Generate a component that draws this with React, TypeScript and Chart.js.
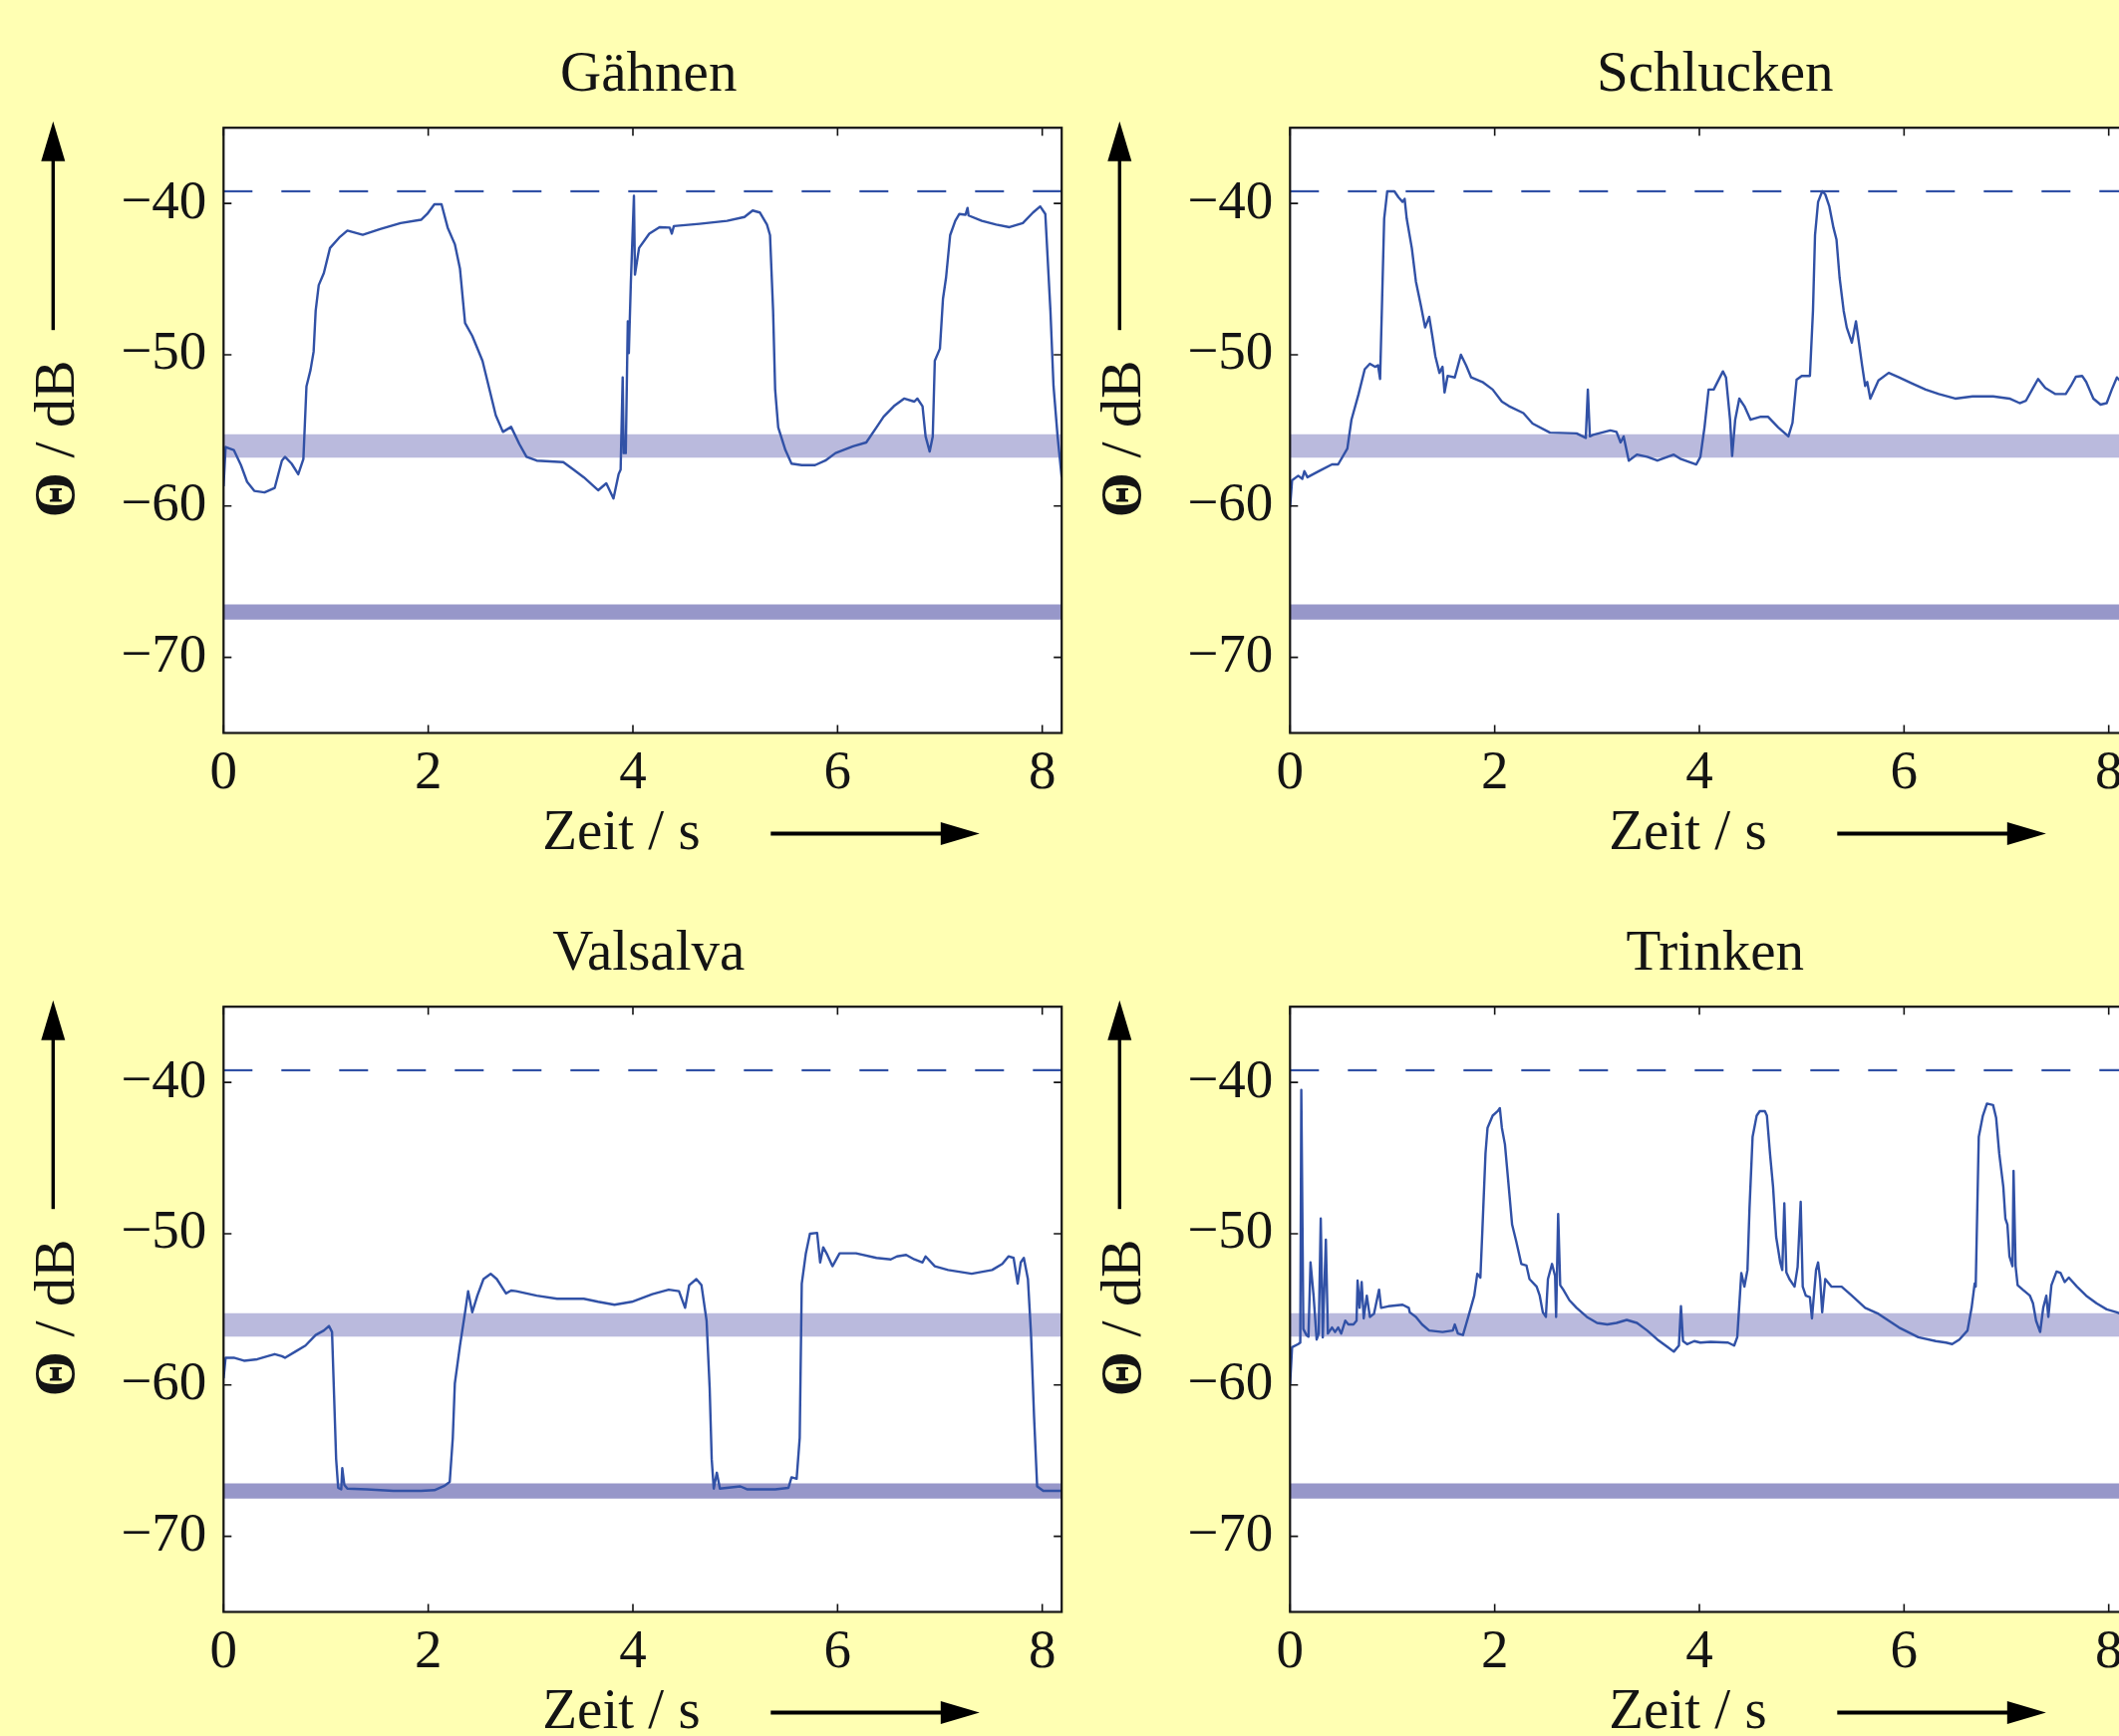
import React, { useEffect, useRef } from "react";
import { Chart, registerables } from "chart.js";

Chart.register(...registerables);

// ---------- data ----------
const xTickValues = [0, 2, 4, 6, 8];
const yTickValues = [-70, -60, -50, -40];
const xMin = 0;
const xMax = 8.19;
const yMin = -75;
const yMax = -35;
const refLevel = -39.2;
const upperBand = [-56.8, -55.25];
const lowerBand = [-67.5, -66.5];

const gaehnenT = [0, 0.02, 0.1, 0.17, 0.23, 0.3, 0.4, 0.5, 0.57, 0.6, 0.665, 0.73, 0.78, 0.81, 0.85, 0.88, 0.9, 0.93, 0.98, 1.04, 1.13, 1.21, 1.36, 1.53, 1.73, 1.93, 1.99, 2.06, 2.13, 2.19, 2.26, 2.31, 2.36, 2.43, 2.53, 2.59, 2.66, 2.73, 2.81, 2.89, 2.96, 3.06, 3.32, 3.42, 3.52, 3.66, 3.74, 3.81, 3.86, 3.88, 3.9, 3.91, 3.93, 3.95, 3.96, 3.98, 4.01, 4.02, 4.06, 4.16, 4.26, 4.36, 4.38, 4.4, 4.65, 4.92, 5.09, 5.17, 5.24, 5.31, 5.34, 5.37, 5.39, 5.42, 5.49, 5.55, 5.65, 5.78, 5.88, 5.98, 6.15, 6.28, 6.38, 6.45, 6.55, 6.65, 6.75, 6.78, 6.83, 6.86, 6.9, 6.93, 6.95, 7.0, 7.03, 7.06, 7.1, 7.15, 7.19, 7.25, 7.27, 7.28, 7.41, 7.55, 7.68, 7.81, 7.91, 7.98, 8.03, 8.08, 8.11, 8.15, 8.19];
const gaehnenV = [-58.7, -56.1, -56.3, -57.3, -58.4, -59.0, -59.1, -58.8, -57.0, -56.75, -57.2, -57.9, -56.9, -52.1, -51.0, -49.8, -47.1, -45.4, -44.6, -42.95, -42.26, -41.8, -42.07, -41.7, -41.3, -41.08, -40.7, -40.06, -40.06, -41.6, -42.7, -44.3, -47.9, -48.75, -50.4, -52.06, -54.0, -55.1, -54.77, -55.9, -56.75, -57.0, -57.1, -57.6, -58.1, -58.96, -58.5, -59.5, -57.9, -57.6, -51.5, -56.5, -56.5, -47.8, -49.9, -45.2, -39.5, -44.7, -42.95, -42.0, -41.57, -41.6, -42.0, -41.5, -41.35, -41.15, -40.9, -40.47, -40.6, -41.4, -42.1, -47.1, -52.3, -54.8, -56.3, -57.2, -57.3, -57.3, -57.0, -56.5, -56.06, -55.8, -54.8, -54.1, -53.4, -52.9, -53.1, -52.9, -53.4, -55.4, -56.4, -55.4, -50.4, -49.6, -46.3, -44.9, -42.1, -41.15, -40.7, -40.75, -40.3, -40.8, -41.15, -41.4, -41.57, -41.3, -40.6, -40.2, -40.7, -47.1, -52.06, -55.4, -58.1];

const schluckenT = [0, 0.02, 0.08, 0.12, 0.14, 0.17, 0.28, 0.41, 0.47, 0.56, 0.6, 0.67, 0.73, 0.78, 0.83, 0.86, 0.88, 0.9, 0.92, 0.95, 1.02, 1.06, 1.1, 1.12, 1.14, 1.19, 1.23, 1.28, 1.32, 1.36, 1.39, 1.42, 1.46, 1.49, 1.51, 1.54, 1.61, 1.67, 1.72, 1.77, 1.88, 1.98, 2.07, 2.14, 2.28, 2.37, 2.54, 2.8, 2.89, 2.91, 2.93, 2.96, 3.13, 3.19, 3.23, 3.26, 3.31, 3.39, 3.49, 3.59, 3.75, 3.82, 3.97, 4.01, 4.05, 4.09, 4.14, 4.23, 4.26, 4.3, 4.32, 4.35, 4.39, 4.44, 4.5, 4.6, 4.67, 4.77, 4.87, 4.91, 4.95, 5.0, 5.08, 5.11, 5.13, 5.16, 5.2, 5.23, 5.27, 5.31, 5.34, 5.37, 5.41, 5.44, 5.49, 5.53, 5.55, 5.59, 5.62, 5.64, 5.67, 5.75, 5.85, 5.95, 6.08, 6.21, 6.34, 6.5, 6.67, 6.87, 7.03, 7.13, 7.19, 7.26, 7.31, 7.38, 7.48, 7.58, 7.63, 7.68, 7.74, 7.78, 7.85, 7.92, 7.98, 8.03, 8.08, 8.19];
const schluckenV = [-60.07, -58.3, -58.0, -58.2, -57.7, -58.1, -57.7, -57.25, -57.25, -56.2, -54.3, -52.6, -50.96, -50.6, -50.8, -50.7, -51.6, -46.3, -41.0, -39.2, -39.2, -39.6, -39.9, -39.7, -41.0, -42.95, -45.16, -46.8, -48.2, -47.5, -48.75, -50.1, -51.2, -50.8, -52.5, -51.4, -51.5, -50.0, -50.7, -51.5, -51.8, -52.3, -53.1, -53.4, -53.86, -54.55, -55.15, -55.2, -55.5, -52.3, -55.4, -55.3, -55.0, -55.1, -55.8, -55.4, -57.0, -56.6, -56.75, -57.0, -56.6, -56.9, -57.25, -56.75, -54.8, -52.3, -52.3, -51.1, -51.5, -54.3, -56.7, -54.3, -52.9, -53.4, -54.3, -54.1, -54.1, -54.8, -55.4, -54.5, -51.65, -51.4, -51.4, -47.1, -42.1, -39.9, -39.2, -39.4, -40.2, -41.6, -42.4, -44.9, -47.1, -48.2, -49.2, -47.8, -48.75, -50.7, -52.06, -51.8, -52.9, -51.7, -51.2, -51.5, -51.9, -52.3, -52.6, -52.9, -52.75, -52.75, -52.9, -53.2, -53.05, -52.2, -51.6, -52.2, -52.6, -52.6, -52.06, -51.45, -51.4, -51.8, -52.9, -53.3, -53.2, -52.3, -51.5, -52.3];

const valsalvaT = [0, 0.02, 0.1, 0.2, 0.33, 0.43, 0.5, 0.57, 0.6, 0.7, 0.8, 0.9, 0.98, 1.03, 1.06, 1.08, 1.1, 1.12, 1.15, 1.16, 1.18, 1.21, 1.4, 1.66, 1.93, 2.06, 2.16, 2.21, 2.24, 2.26, 2.31, 2.36, 2.39, 2.43, 2.48, 2.54, 2.61, 2.67, 2.76, 2.81, 2.86, 3.06, 3.26, 3.52, 3.66, 3.82, 3.99, 4.19, 4.35, 4.45, 4.51, 4.55, 4.62, 4.67, 4.72, 4.75, 4.77, 4.79, 4.82, 4.85, 5.05, 5.12, 5.39, 5.52, 5.55, 5.6, 5.63, 5.65, 5.69, 5.73, 5.8, 5.83, 5.86, 5.9, 5.95, 6.02, 6.18, 6.38, 6.52, 6.58, 6.67, 6.75, 6.83, 6.86, 6.95, 7.08, 7.31, 7.51, 7.61, 7.67, 7.72, 7.76, 7.79, 7.82, 7.86, 7.89, 7.92, 7.95, 8.01, 8.19];
const valsalvaV = [-59.56, -58.2, -58.2, -58.4, -58.3, -58.1, -57.96, -58.1, -58.2, -57.8, -57.4, -56.7, -56.4, -56.1, -56.5, -60.7, -64.9, -66.8, -66.9, -65.5, -66.6, -66.85, -66.9, -67.0, -67.0, -66.95, -66.66, -66.4, -63.5, -59.9, -57.4, -55.2, -53.8, -55.2, -54.1, -53.0, -52.65, -53.0, -53.95, -53.76, -53.8, -54.1, -54.3, -54.3, -54.5, -54.7, -54.5, -54.0, -53.7, -53.8, -54.9, -53.4, -53.0, -53.4, -55.75, -60.2, -64.9, -66.85, -65.8, -66.85, -66.7, -66.9, -66.9, -66.8, -66.1, -66.2, -63.5, -53.3, -51.3, -50.0, -49.95, -51.9, -50.9, -51.4, -52.15, -51.3, -51.3, -51.6, -51.7, -51.5, -51.4, -51.7, -51.9, -51.5, -52.15, -52.4, -52.65, -52.4, -52.0, -51.5, -51.6, -53.3, -51.9, -51.6, -53.0, -56.6, -62.1, -66.7, -67.0, -67.0];

const trinkenT = [0, 0.02, 0.08, 0.1, 0.11, 0.13, 0.16, 0.18, 0.2, 0.23, 0.26, 0.28, 0.3, 0.32, 0.35, 0.37, 0.41, 0.44, 0.47, 0.5, 0.54, 0.57, 0.62, 0.65, 0.66, 0.68, 0.7, 0.72, 0.75, 0.78, 0.82, 0.87, 0.89, 0.96, 1.1, 1.16, 1.17, 1.23, 1.29, 1.36, 1.49, 1.59, 1.61, 1.64, 1.69, 1.72, 1.75, 1.8, 1.83, 1.86, 1.88, 1.91, 1.93, 1.98, 2.03, 2.05, 2.07, 2.1, 2.13, 2.17, 2.21, 2.26, 2.31, 2.34, 2.41, 2.44, 2.47, 2.5, 2.52, 2.56, 2.59, 2.6, 2.62, 2.64, 2.67, 2.73, 2.8, 2.9, 3.0, 3.1, 3.19, 3.29, 3.39, 3.49, 3.59, 3.69, 3.75, 3.8, 3.82, 3.84, 3.88, 3.95, 4.01, 4.11, 4.28, 4.34, 4.37, 4.41, 4.44, 4.47, 4.49, 4.52, 4.56, 4.59, 4.64, 4.66, 4.69, 4.72, 4.75, 4.79, 4.81, 4.83, 4.85, 4.88, 4.93, 4.96, 4.99, 5.01, 5.04, 5.08, 5.1, 5.14, 5.16, 5.18, 5.2, 5.23, 5.29, 5.39, 5.49, 5.62, 5.75, 5.95, 6.14, 6.31, 6.41, 6.47, 6.54, 6.62, 6.66, 6.69, 6.7, 6.73, 6.77, 6.81, 6.87, 6.9, 6.93, 6.97, 6.99, 7.01, 7.03, 7.06, 7.07, 7.09, 7.11, 7.16, 7.23, 7.26, 7.29, 7.33, 7.36, 7.39, 7.41, 7.44, 7.49, 7.53, 7.57, 7.61, 7.69, 7.78, 7.88, 7.98, 8.08, 8.19];
const trinkenV = [-60.0, -57.5, -57.3, -57.2, -40.5, -56.3, -56.7, -56.8, -51.9, -54.1, -57.0, -56.6, -49.0, -56.85, -50.4, -56.6, -56.2, -56.5, -56.2, -56.6, -55.75, -56.0, -56.0, -55.75, -53.1, -54.9, -53.2, -55.6, -54.1, -55.5, -55.3, -53.7, -54.9, -54.8, -54.7, -54.9, -55.2, -55.5, -56.0, -56.4, -56.5, -56.4, -56.0, -56.6, -56.7, -56.0, -55.3, -54.1, -52.65, -52.9, -49.7, -44.7, -43.0, -42.2, -41.9, -41.7, -43.0, -44.1, -46.35, -49.4, -50.5, -52.0, -52.1, -53.0, -53.5, -54.1, -55.2, -55.5, -53.0, -52.0, -52.8, -55.5, -48.7, -53.4, -53.7, -54.4, -54.9, -55.5, -55.9, -56.0, -55.9, -55.7, -55.9, -56.4, -57.0, -57.5, -57.8, -57.4, -54.8, -57.1, -57.3, -57.1, -57.2, -57.15, -57.2, -57.4, -56.85, -52.6, -53.5, -52.4, -48.3, -43.6, -42.2, -41.9, -41.9, -42.2, -44.7, -46.9, -50.2, -51.9, -52.4, -48.0, -52.55, -53.0, -53.5, -52.2, -47.9, -53.5, -54.1, -54.2, -55.6, -52.4, -51.9, -53.0, -55.2, -53.0, -53.5, -53.5, -54.1, -54.9, -55.3, -56.2, -56.85, -57.1, -57.2, -57.3, -57.0, -56.4, -54.9, -53.3, -53.5, -43.6, -42.2, -41.4, -41.5, -42.35, -44.7, -46.9, -49.0, -49.4, -51.5, -52.15, -45.85, -52.15, -53.4, -53.7, -54.1, -54.6, -55.75, -56.5, -54.9, -54.1, -55.5, -53.4, -52.5, -52.6, -53.2, -52.9, -53.5, -54.1, -54.6, -55.0, -55.2, -55.5];

const panelTitles = ["Gähnen", "Schlucken", "Valsalva", "Trinken"];
const xLabel = "Zeit / s";
const yLabelSymbol = "Θ";
const yLabelRest = " / dB";

// ---------- style ----------
const FONT = "'Liberation Serif', 'Times New Roman', Times, serif";
const BG = "#FFFFB3";
const INK = "#141414";
const CURVE = "#3151A6";
const BAND_LIGHT = "#BABADD";
const BAND_DARK = "#9797C9";

const CW = 1070;
const CH = 882;

const fmt = (v: number) => (v < 0 ? "\u2212" + Math.abs(v) : String(v));

const decorPlugin = {
  id: "decor",
  beforeDraw(chart: any) {
    const { ctx, chartArea: a } = chart;
    ctx.save();
    ctx.fillStyle = "#ffffff";
    ctx.fillRect(a.left, a.top, a.right - a.left, a.bottom - a.top);
    ctx.restore();
  },
  afterDraw(chart: any, _args: any, opts: any) {
    const { ctx, chartArea: a } = chart;
    const xs = chart.scales.x;
    const ys = chart.scales.y;
    ctx.save();
    // inward ticks
    ctx.strokeStyle = INK;
    ctx.lineWidth = 1.6;
    const tl = 8;
    ctx.beginPath();
    xTickValues.forEach((v) => {
      const px = xs.getPixelForValue(v);
      ctx.moveTo(px, a.bottom);
      ctx.lineTo(px, a.bottom - tl);
      ctx.moveTo(px, a.top);
      ctx.lineTo(px, a.top + tl);
    });
    yTickValues.forEach((v) => {
      const py = ys.getPixelForValue(v);
      ctx.moveTo(a.left, py);
      ctx.lineTo(a.left + tl, py);
      ctx.moveTo(a.right, py);
      ctx.lineTo(a.right - tl, py);
    });
    ctx.stroke();
    // frame
    ctx.lineWidth = 2.2;
    ctx.strokeRect(a.left, a.top, a.right - a.left, a.bottom - a.top);

    // title
    ctx.fillStyle = INK;
    ctx.font = `57px ${FONT}`;
    ctx.textAlign = "center";
    ctx.textBaseline = "alphabetic";
    ctx.fillText(opts.title, (a.left + a.right) / 2 + 6, a.top - 37);

    // x label
    ctx.textAlign = "left";
    ctx.fillText(xLabel, a.left + 320, a.bottom + 116);

    // x arrow
    ctx.fillStyle = "#000";
    const ay = a.bottom + 101;
    const ax0 = a.left + 549;
    const axTip = a.left + 758.5;
    const axBase = axTip - 39;
    ctx.fillRect(ax0, ay - 2, axBase - ax0 + 1, 4);
    ctx.beginPath();
    ctx.moveTo(axTip, ay);
    ctx.lineTo(axBase, ay - 11.5);
    ctx.lineTo(axBase, ay + 11.5);
    ctx.closePath();
    ctx.fill();

    // y arrow
    const yx = a.left - 171;
    const yTip = a.top - 6.5;
    const yBase = yTip + 40;
    const yBottom = a.top + 203;
    ctx.fillRect(yx - 1.7, yBase - 1, 3.4, yBottom - yBase + 1);
    ctx.beginPath();
    ctx.moveTo(yx, yTip);
    ctx.lineTo(yx - 12, yBase);
    ctx.lineTo(yx + 12, yBase);
    ctx.closePath();
    ctx.fill();

    // y label (rotated)
    ctx.fillStyle = INK;
    ctx.translate(a.left - 150, a.top + 312);
    ctx.rotate(-Math.PI / 2);
    ctx.textAlign = "left";
    const boldFont = `bold 58px ${FONT}`;
    const normFont = `58px ${FONT}`;
    ctx.font = boldFont;
    const w1 = ctx.measureText(yLabelSymbol).width;
    ctx.font = normFont;
    const w2 = ctx.measureText(yLabelRest).width;
    const start = -(w1 + w2) / 2;
    ctx.font = boldFont;
    ctx.fillText(yLabelSymbol, start, 0);
    ctx.font = normFont;
    ctx.fillText(yLabelRest, start + w1, 0);
    ctx.restore();
  },
};

type PanelProps = { title: string; times: number[]; values: number[]; left: number; top: number };

function Panel({ title, times, values, left, top }: PanelProps) {
  const ref = useRef<HTMLCanvasElement>(null);
  useEffect(() => {
    const canvas = ref.current;
    if (!canvas) return;
    const curve = times.map((t, i) => ({ x: t, y: values[i] }));
    const span = (v: number) => [
      { x: xMin, y: v },
      { x: xMax, y: v },
    ];
    const tickFont = { family: FONT, size: 55 };
    const chart = new Chart(canvas, {
      type: "line",
      data: {
        datasets: [
          { data: curve, borderColor: CURVE, borderWidth: 2.4, pointRadius: 0, fill: false, tension: 0, borderJoinStyle: "round", order: 0 },
          { data: span(refLevel), borderColor: CURVE, borderWidth: 2.2, borderDash: [29, 29], pointRadius: 0, fill: false, order: 1 },
          { data: span(upperBand[0]), borderWidth: 0, borderColor: "rgba(0,0,0,0)", backgroundColor: BAND_LIGHT, fill: { value: upperBand[1] }, pointRadius: 0, order: 2 },
          { data: span(lowerBand[0]), borderWidth: 0, borderColor: "rgba(0,0,0,0)", backgroundColor: BAND_DARK, fill: { value: lowerBand[1] }, pointRadius: 0, order: 3 },
        ],
      },
      options: {
        animation: false,
        responsive: false,
        maintainAspectRatio: false,
        events: [],
        layout: { padding: { left: 0, top: 128.2, right: CW - 1065.2, bottom: 0 } },
        plugins: {
          legend: { display: false },
          tooltip: { enabled: false },
          title: { display: false },
          decor: { title },
        } as any,
        scales: {
          x: {
            type: "linear",
            min: xMin,
            max: xMax,
            afterBuildTicks: (s: any) => {
              s.ticks = xTickValues.map((v) => ({ value: v }));
            },
            afterFit: (s: any) => {
              s.height = CH - 735.5;
            },
            grid: { display: false, drawTicks: false },
            border: { display: false },
            ticks: { font: tickFont, color: INK, padding: 8, maxRotation: 0, autoSkip: false, callback: (v: any) => fmt(Number(v)) },
          },
          y: {
            type: "linear",
            min: yMin,
            max: yMax,
            afterBuildTicks: (s: any) => {
              s.ticks = yTickValues.map((v) => ({ value: v }));
            },
            afterFit: (s: any) => {
              s.width = 224.3;
            },
            grid: { display: false, drawTicks: false },
            border: { display: false },
            ticks: { font: tickFont, color: INK, padding: 17, autoSkip: false, callback: (v: any) => fmt(Number(v)) },
          },
        },
      },
      plugins: [decorPlugin],
    } as any);
    return () => chart.destroy();
  }, [title, times, values]);
  return (
    <canvas
      ref={ref}
      width={CW}
      height={CH}
      style={{ position: "absolute", left, top, width: CW, height: CH }}
    />
  );
}

export default function App() {
  return (
    <div
      style={{
        position: "fixed",
        left: 0,
        top: 0,
        width: 2126,
        height: 1742,
        overflow: "hidden",
        background: BG,
      }}
    >
      <Panel title={panelTitles[0]} times={gaehnenT} values={gaehnenV} left={0} top={0} />
      <Panel title={panelTitles[1]} times={schluckenT} values={schluckenV} left={1070} top={0} />
      <Panel title={panelTitles[2]} times={valsalvaT} values={valsalvaV} left={0} top={882} />
      <Panel title={panelTitles[3]} times={trinkenT} values={trinkenV} left={1070} top={882} />
    </div>
  );
}
